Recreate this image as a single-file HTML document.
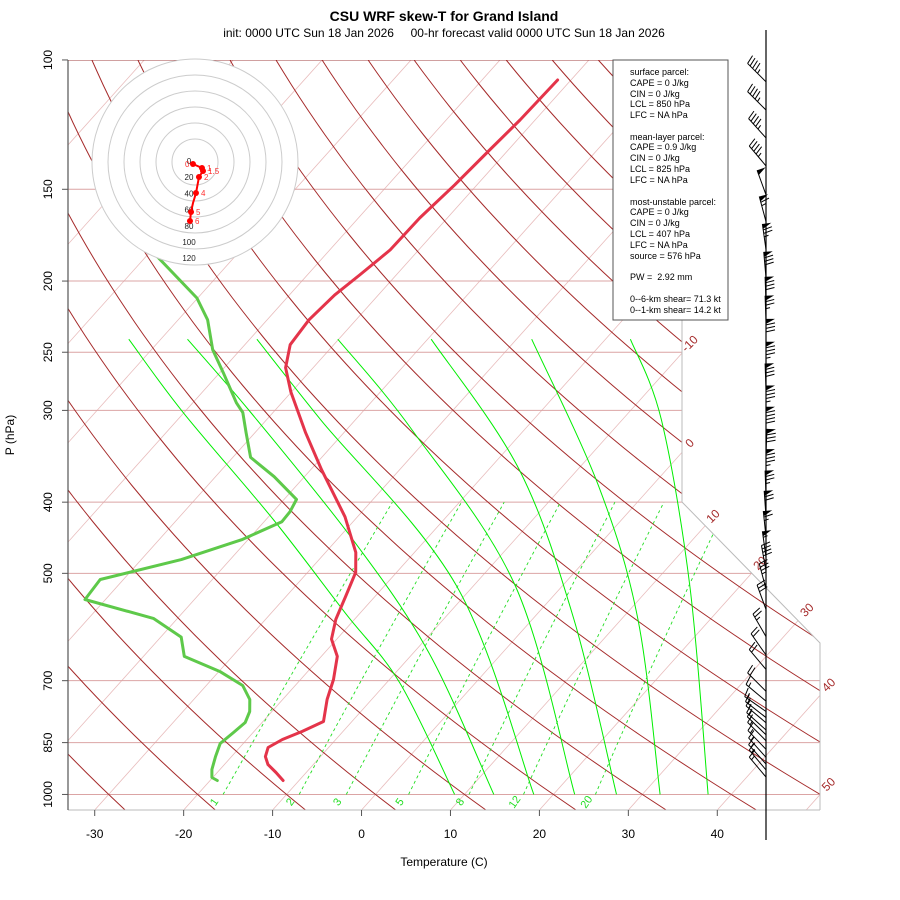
<!DOCTYPE html>
<html><head><meta charset="utf-8"><title>CSU WRF skew-T for Grand Island</title>
<style>
html,body{margin:0;padding:0;background:#fff;}
svg{display:block;font-family:"Liberation Sans",Arial,sans-serif;}
</style></head>
<body>
<svg id="chart" width="900" height="900" viewBox="0 0 900 900" xmlns="http://www.w3.org/2000/svg">
<defs><clipPath id="plotclip"><polygon points="68,60 682,60 682,502 820,643 820,810 68,810"/></clipPath></defs>
<rect x="0" y="0" width="900" height="900" fill="#fff"/>
<text x="444" y="21" text-anchor="middle" font-size="14" font-weight="bold">CSU WRF skew-T for Grand Island</text>
<text x="444" y="37" text-anchor="middle" font-size="12">init: 0000 UTC Sun 18 Jan 2026&#160;&#160;&#160;&#160; 00-hr forecast valid 0000 UTC Sun 18 Jan 2026</text>
<g id="grid" clip-path="url(#plotclip)"></g>
<g id="frame"></g>
<g id="profiles"></g>
<g id="hodo"></g>
<g id="winds"></g>
<g font-size="9">
<rect x="613" y="60" width="115" height="260" fill="#fff" stroke="#555" stroke-width="1"/>
<text x="630" y="75">surface parcel:</text>
<text x="630" y="86">CAPE = 0 J/kg</text>
<text x="630" y="97">CIN = 0 J/kg</text>
<text x="630" y="107">LCL = 850 hPa</text>
<text x="630" y="118">LFC = NA hPa</text>
<text x="630" y="140">mean-layer parcel:</text>
<text x="630" y="150">CAPE = 0.9 J/kg</text>
<text x="630" y="161">CIN = 0 J/kg</text>
<text x="630" y="172">LCL = 825 hPa</text>
<text x="630" y="183">LFC = NA hPa</text>
<text x="630" y="205">most-unstable parcel:</text>
<text x="630" y="215">CAPE = 0 J/kg</text>
<text x="630" y="226">CIN = 0 J/kg</text>
<text x="630" y="237">LCL = 407 hPa</text>
<text x="630" y="248">LFC = NA hPa</text>
<text x="630" y="259">source = 576 hPa</text>
<text x="630" y="280">PW =&#160; 2.92 mm</text>
<text x="630" y="302">0--6-km shear= 71.3 kt</text>
<text x="630" y="313">0--1-km shear= 14.2 kt</text>
</g>
<text x="444" y="866" text-anchor="middle" font-size="12">Temperature (C)</text>
<text x="14" y="435" text-anchor="middle" font-size="12" transform="rotate(-90 14 435)">P (hPa)</text>
</svg>
<script>
// ---------- data ----------
const presLevels=[1000,850,700,500,400,300,250,200,150,100];
const presLabels=["1000","850","700","500","400","300","250","200","150","100"];
const tempTicks=[-30,-20,-10,0,10,20,30,40];
const tempTickLabels=["-30","-20","-10","0","10","20","30","40"];
const isoLabelTemps=[-10,0,10,20,30,40,50];
const mixRatios=[1,2,3,5,8,12,20];
const moistP=[[1000,705,566,423,302,240],[1000,641,450,302,240],[1000,521,309,240],[1000,521,319,240],[1000,578,361,240],[1000,578,381,240],[1000,521,309,240]];
const moistT=[[8.9,-8.5,-21.7,-39.1,-60.1,-73.6],[13.3,-8.3,-28.2,-52.5,-67.0],[17.8,-11.8,-43.9,-59.2],[22.4,-5.2,-32.6,-50.1],[27.1,4.7,-16.6,-39.6],[32.0,11.9,-5.9,-28.3],[37.4,14.4,-5.6,-17.2]];
const tempP=[106.5,120.7,132.6,147.9,164.1,181.4,196.2,209.0,225.8,244.2,262.4,282.9,321.7,361.2,418.8,468.2,498.4,537.7,577.7,614.4,648.8,697.5,742.6,795.5,821.0,841.8,863.1,888,910.6,933.4,957.1];
const tempT=[-51.5,-51.7,-52.1,-52.5,-53.1,-53.2,-54.1,-54.9,-55.3,-54.9,-53.1,-50.1,-44.3,-38.8,-31.4,-26.6,-24.6,-23.3,-22.1,-20.6,-18.2,-16.3,-15.0,-13.2,-14.6,-16.0,-16.8,-16.2,-15.1,-13.4,-11.8];
const dewP=[165.1,179.8,210.9,225.8,248.1,266.6,292.9,302,321.7,347.6,369.3,396.6,412.1,425.3,450,478.9,509.8,542.7,575.9,610.6,648.8,680.7,710.7,742.6,771,798,823.5,852.3,888,924.9,948.2,957.1];
const dewT=[-87.5,-80.7,-70.1,-66.7,-63.1,-59.6,-55.1,-53.4,-51.0,-48.0,-43.4,-38.6,-38.1,-38.0,-40.7,-45.5,-52.6,-52.3,-42.7,-37.7,-35.4,-29.8,-25.9,-23.7,-22.5,-21.9,-22.2,-22.6,-21.8,-20.9,-20.1,-19.2];
const barbP=[107.1,117.0,127.7,139.4,152.6,166.0,181.3,198.0,214.1,227.2,244.3,262.5,281.0,301.0,321.7,344.9,367.5,393.1,418.8,446.1,475.2,496.5,525,560,609.7,645.9,675.8,723.7,746.4,771,785.8,798.6,817,829.4,845,868,890,909,926,947];
const barbDir=[315,315,318,320,340,345,352,355,358,358,0,0,358,0,0,2,0,358,356,354,352,350,345,340,330,325,320,315,310,305,308,310,312,314,315,316,318,318,320,320];
const barbSpd=[45,45,45,45,50,65,75,80,80,75,80,85,80,85,90,80,85,75,70,65,55,40,35,30,25,20,20,20,15,15,15,15,15,15,15,15,15,15,15,15];
const hodoU=[-2.5,8.6,9.9,4.9,1.2,-2.5,-4.9,-6.2];
const hodoV=[-2.5,-7.4,-11.1,-18.5,-38.3,-50.6,-61.7,-72.8];
const hodoDotIdx=[0,1,2,3,4,6,7];
const hodoDotLabels=["0","1","1.5","2","4","5","6"];
const hodoRings=[0,20,40,60,80,100,120];

// ---------- scales ----------
const NS="http://www.w3.org/2000/svg";
function vy(p){return 132.182-44.061*Math.log10(p);}
function Y(p){return 810-(vy(p)+0.934)*16.67;}
function X(T,p){return 68+(0.54*T+0.90692*vy(p)+18.67)*16.47;}
function add(parent,tag,attrs,name){
  const el=document.createElementNS(NS,tag);
  for(const k in attrs) el.setAttribute(k,attrs[k]);
  
  
  parent.appendChild(el);return el;
}
function pts(arr){return arr.map(a=>a[0].toFixed(1)+","+a[1].toFixed(1)).join(" ");}
const grid=document.getElementById('grid'),frame=document.getElementById('frame'),prof=document.getElementById('profiles'),hodo=document.getElementById('hodo'),winds=document.getElementById('winds');
function plist(p0,p1,n){const r=[];for(let i=0;i<=n;i++)r.push(p0*Math.pow(p1/p0,i/n));return r;}

// isotherms
for(let T=-130;T<=60;T+=10){
  add(grid,'line',{x1:X(T,1050),y1:Y(1050),x2:X(T,100),y2:Y(100),stroke:'#e8bcbc','stroke-width':0.8},'isotherm');
}
// pressure lines
presLevels.forEach((p,i)=>{
  add(grid,'line',{x1:68,y1:Y(p),x2:820,y2:Y(p),stroke:i==presLevels.length-1?'#a04040':'#dba4a4','stroke-width':1},'isobar-'+p);
});
// dry adiabats
for(let th=-30;th<=220;th+=10){
  const a=plist(1050,100,60).map(p=>{const T=(th+273.15)*Math.pow(p/1000,0.286)-273.15;return [X(T,p),Y(p)];});
  add(grid,'polyline',{points:pts(a),fill:'none',stroke:'#a52a2a','stroke-width':1},'dry-adiabat');
}
// moist adiabats
function smoothPath(P){
  let d="M"+P[0][0].toFixed(1)+","+P[0][1].toFixed(1);
  for(let i=0;i<P.length-1;i++){
    const p0=P[Math.max(0,i-1)],p1=P[i],p2=P[i+1],p3=P[Math.min(P.length-1,i+2)];
    const c1=[p1[0]+(p2[0]-p0[0])/6,p1[1]+(p2[1]-p0[1])/6],c2=[p2[0]-(p3[0]-p1[0])/6,p2[1]-(p3[1]-p1[1])/6];
    d+=" C"+c1[0].toFixed(1)+","+c1[1].toFixed(1)+" "+c2[0].toFixed(1)+","+c2[1].toFixed(1)+" "+p2[0].toFixed(1)+","+p2[1].toFixed(1);
  }
  return d;
}
moistP.forEach((ps,i)=>{
  const P=ps.map((p,j)=>[X(moistT[i][j],p),Y(p)]);
  add(grid,'path',{d:smoothPath(P),fill:'none',stroke:'#00ee00','stroke-width':1},'moist-adiabat');
});
// mixing ratio lines
function tdFromW(w,p){const e=w*p/(622+w);const l=Math.log(e/6.112);return 243.5*l/(17.67-l);}
mixRatios.forEach(w=>{
  const a=plist(1000,400,20).map(p=>[X(tdFromW(w,p),p),Y(p)]);
  add(grid,'polyline',{points:pts(a),fill:'none',stroke:'#22dd22','stroke-width':0.9,'stroke-dasharray':'3,3'},'mixing-ratio-line');
  const x=X(tdFromW(w,1000),1000)-6,y=804;
  const t=add(frame,'text',{x:x,y:y,'font-size':11,fill:'#22dd22','text-anchor':'middle',transform:'rotate(-55 '+x+' '+y+')'},'mixing-ratio-label');
  t.textContent=String(w);
});

// frame
add(frame,'polyline',{points:'682,60 682,502 820,643 820,810',fill:'none',stroke:'#bbb','stroke-width':1},'plot-boundary');
add(frame,'line',{x1:68,y1:810,x2:820,y2:810,stroke:'#bbb','stroke-width':1},'plot-bottom');
add(frame,'line',{x1:68,y1:60,x2:68,y2:810,stroke:'#555','stroke-width':1.2},'y-axis-line');
presLevels.forEach((p,i)=>{
  const y=Y(p);
  add(frame,'line',{x1:62,y1:y,x2:68,y2:y,stroke:'#555','stroke-width':1},'y-tick');
  const t=add(frame,'text',{x:52,y:y,'font-size':12,'text-anchor':'middle',transform:'rotate(-90 52 '+y+')'},'y-tick-label');
  t.textContent=presLabels[i];
});
tempTicks.forEach((T,i)=>{
  const x=X(T,1050);
  add(frame,'line',{x1:x,y1:810,x2:x,y2:816,stroke:'#555','stroke-width':1},'x-tick');
  const t=add(frame,'text',{x:x,y:838,'font-size':12,'text-anchor':'middle'},'x-tick-label');
  t.textContent=tempTickLabels[i];
});
function bX(y){return y<=502?682:(y<=643?682+(y-502)*138/141:820);}
isoLabelTemps.forEach(T=>{
  let cx=null,cy=null;
  for(let k=0;k<=400;k++){const p=1050*Math.pow(100/1050,k/400);const x=X(T,p),y=Y(p);if(x>=bX(y)){cx=x;cy=y;break;}}
  if(cx===null)return;
  const lx=cx+10,ly=cy-6;
  const t=add(frame,'text',{x:lx,y:ly,'font-size':12,fill:'#a52a2a','text-anchor':'middle',transform:'rotate(-45 '+lx+' '+ly+')'},'isotherm-label');
  t.textContent=String(T);
});

// profiles
add(prof,'polyline',{points:pts(dewP.map((p,i)=>[X(dewT[i],p),Y(p)])),fill:'none',stroke:'#5ec94a','stroke-width':3,'stroke-linejoin':'round','stroke-linecap':'round'},'dewpoint-profile');
add(prof,'polyline',{points:pts(tempP.map((p,i)=>[X(tempT[i],p),Y(p)])),fill:'none',stroke:'#e4344a','stroke-width':3,'stroke-linejoin':'round','stroke-linecap':'round'},'temperature-profile');

// hodograph
const hcx=195,hcy=162,hs=0.81;
add(hodo,'circle',{cx:hcx,cy:hcy,r:103,fill:'#fff',stroke:'none'},'hodograph-background');
for(let k=0;k<6;k++){add(hodo,'circle',{cx:hcx,cy:hcy,r:23+16*k,fill:'none',stroke:'#ccc','stroke-width':1},'hodograph-ring');}
hodoRings.forEach(v=>{
  const t=add(hodo,'text',{x:hcx-6,y:hcy+v*hs+2,'font-size':8,'text-anchor':'middle',fill:'#222'},'hodograph-ring-label');
  t.textContent=String(v);
});
const hp=hodoU.map((u,i)=>[hcx+u*hs,hcy-hodoV[i]*hs]);
add(hodo,'polyline',{points:pts(hp),fill:'none',stroke:'#ff0000','stroke-width':2},'hodograph-trace');
hodoDotIdx.forEach((idx,i)=>{
  add(hodo,'circle',{cx:hp[idx][0],cy:hp[idx][1],r:3,fill:'#ff0000'},'hodograph-point');
  const t=add(hodo,'text',{x:hp[idx][0]+(i==0?-8:5),y:hp[idx][1]+3,'font-size':8,fill:'#ff3030'},'hodograph-point-label');
  t.textContent=hodoDotLabels[i];
});

// wind barbs
add(winds,'line',{x1:766,y1:30,x2:766,y2:840,stroke:'#000','stroke-width':1.2},'wind-staff');
barbP.forEach((p,i)=>{
  const oy=Y(p),ox=766,d=barbDir[i]*Math.PI/180;
  const sx=Math.sin(d),sy=-Math.cos(d),px=-sy,py=sx,L=26;
  const P=t=>[ox+sx*t,oy+sy*t];
  const e=P(L);
  add(winds,'line',{x1:ox,y1:oy,x2:e[0],y2:e[1],stroke:'#000','stroke-width':1},'barb-shaft');
  let rem=Math.round(barbSpd[i]/5)*5,pos=L;
  while(rem>=50){const a=P(pos),b=P(pos-5);
    add(winds,'polygon',{points:pts([a,[a[0]+px*9,a[1]+py*9],b]),fill:'#000'},'barb-flag');
    pos-=6;rem-=50;}
  while(rem>=10){const a=P(pos);
    add(winds,'line',{x1:a[0],y1:a[1],x2:a[0]+px*9+sx*2,y2:a[1]+py*9+sy*2,stroke:'#000','stroke-width':1},'barb-feather');
    pos-=3.5;rem-=10;}
  if(rem>=5){if(pos===L)pos-=3.5;const a=P(pos);
    add(winds,'line',{x1:a[0],y1:a[1],x2:a[0]+px*4.5+sx,y2:a[1]+py*4.5+sy,stroke:'#000','stroke-width':1},'barb-half-feather');}
});
</script>
</body></html>
